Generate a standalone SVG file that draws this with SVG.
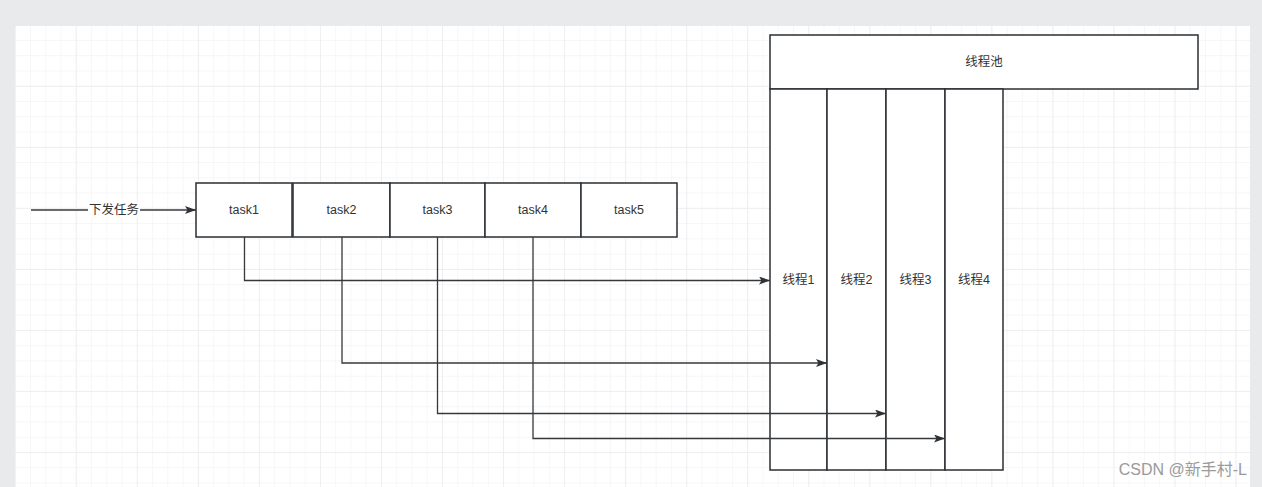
<svg xmlns="http://www.w3.org/2000/svg" width="1262" height="487" viewBox="0 0 1262 487">
<defs>
<pattern id="minor" patternUnits="userSpaceOnUse" x="30" y="40" width="15.26" height="15.26">
<path d="M0 0V15.26M0 0H15.26" fill="none" stroke="#f3f3f4" stroke-width="1.2"/>
</pattern>
<pattern id="major" patternUnits="userSpaceOnUse" x="75.78" y="85.78" width="61.04" height="61.04">
<path d="M0 0V61.04M0 0H61.04" fill="none" stroke="#ececee" stroke-width="1.4"/>
</pattern>
<marker id="arr" viewBox="0 0 11 8" refX="11" refY="4" markerWidth="11" markerHeight="8" markerUnits="userSpaceOnUse" orient="auto">
<path d="M0 0L11 4L0 8L2.5 4Z" fill="#2f3235"/>
</marker>
</defs>
<style>
.box{fill:#fff;stroke:#2b2f33;stroke-width:1.5}
.lbl{font-family:"Liberation Sans","Noto Sans CJK SC",sans-serif;font-size:12.5px;fill:#333;text-anchor:middle;dominant-baseline:central}
.con{fill:none;stroke:#36393c;stroke-width:1.3}
</style>
<rect width="1262" height="487" fill="#e9eaec"/>
<rect x="15" y="26" width="1235" height="461" fill="#fff"/>
<rect x="15" y="26" width="1235" height="461" fill="url(#minor)"/>
<rect x="15" y="26" width="1235" height="461" fill="url(#major)"/>

<g id="pool">
<rect class="box" x="770" y="35" width="428" height="54"/>
<text class="lbl" x="984" y="62">线程池</text>
</g>
<g id="thread1">
<rect class="box" x="770" y="89" width="57" height="381"/>
<text class="lbl" x="798.5" y="280">线程1</text>
</g>
<g id="thread2">
<rect class="box" x="827" y="89" width="59" height="381"/>
<text class="lbl" x="856.5" y="280">线程2</text>
</g>
<g id="thread3">
<rect class="box" x="886" y="89" width="59" height="381"/>
<text class="lbl" x="915.5" y="280">线程3</text>
</g>
<g id="thread4">
<rect class="box" x="945" y="89" width="58" height="381"/>
<text class="lbl" x="974" y="280">线程4</text>
</g>

<g id="task1">
<rect class="box" x="196" y="183" width="96" height="54"/>
<text class="lbl" x="244" y="210">task1</text>
</g>
<g id="task2">
<rect class="box" x="293" y="183" width="97" height="54"/>
<text class="lbl" x="341.5" y="210">task2</text>
</g>
<g id="task3">
<rect class="box" x="390" y="183" width="95" height="54"/>
<text class="lbl" x="437.5" y="210">task3</text>
</g>
<g id="task4">
<rect class="box" x="485" y="183" width="96" height="54"/>
<text class="lbl" x="533" y="210">task4</text>
</g>
<g id="task5">
<rect class="box" x="581" y="183" width="96" height="54"/>
<text class="lbl" x="629" y="210">task5</text>
</g>

<g id="connectors">
<path class="con" d="M31 210H196" marker-end="url(#arr)"/>
<rect x="88" y="202" width="52" height="16" fill="#fff"/>
<text class="lbl" x="114" y="210">下发任务</text>
<path class="con" d="M244.5 237V280.5H770" marker-end="url(#arr)"/>
<path class="con" d="M342 237V363H827" marker-end="url(#arr)"/>
<path class="con" d="M437.5 237V413.5H886" marker-end="url(#arr)"/>
<path class="con" d="M533 237V438.5H945" marker-end="url(#arr)"/>
</g>

<text x="1247" y="469" font-family="'Liberation Sans','Noto Sans CJK SC',sans-serif" font-size="16" fill="#9a9a9a" text-anchor="end" dominant-baseline="central">CSDN @新手村-L</text>
</svg>
